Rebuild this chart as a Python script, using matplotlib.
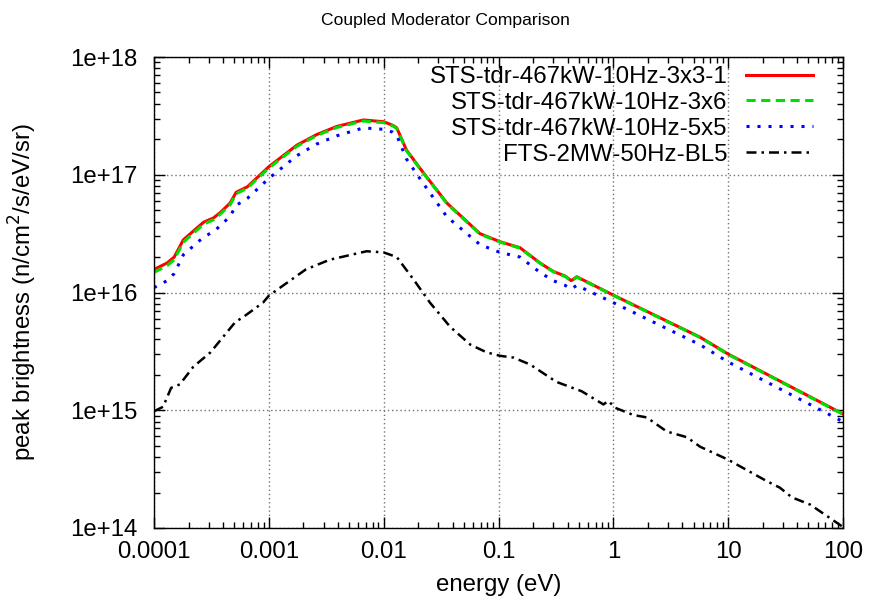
import matplotlib
matplotlib.use("Agg")
import matplotlib.pyplot as plt
from matplotlib.ticker import LogLocator, NullFormatter, FixedLocator, FixedFormatter

plt.rcParams['font.family'] = ['Liberation Sans', 'DejaVu Sans']

# STS 3x3-1 (red) and 3x6 (green)
e_sts = [1e-4, 1.3e-4, 1.5e-4, 1.8e-4, 2.7e-4, 3.3e-4, 3.8e-4, 4.6e-4, 5.2e-4, 6.5e-4,
         1e-3, 1.75e-3, 2.6e-3, 3.9e-3, 6.65e-3, 1e-2, 1.2e-2, 1.3e-2, 1.58e-2, 2.2e-2,
         3.55e-2, 6.9e-2, 0.103, 0.154, 0.23, 0.30, 0.38, 0.43, 0.48, 1.0, 5.7, 10, 100]
b_3x3 = [1.57e16, 1.78e16, 2.0e16, 2.8e16, 3.95e16, 4.3e16, 4.8e16, 5.75e16, 7.1e16, 7.9e16,
         1.17e17, 1.78e17, 2.19e17, 2.57e17, 2.92e17, 2.82e17, 2.63e17, 2.5e17, 1.62e17, 1.05e17,
         5.75e16, 3.16e16, 2.7e16, 2.4e16, 1.78e16, 1.51e16, 1.38e16, 1.26e16, 1.36e16, 9.5e15,
         4.17e15, 3.0e15, 9.3e14]
b_3x6 = [1.48e16, 1.69e16, 1.9e16, 2.68e16, 3.8e16, 4.15e16, 4.65e16, 5.55e16, 6.9e16, 7.7e16,
         1.14e17, 1.74e17, 2.15e17, 2.52e17, 2.86e17, 2.77e17, 2.6e17, 2.47e17, 1.6e17, 1.04e17,
         5.7e16, 3.13e16, 2.68e16, 2.38e16, 1.77e16, 1.5e16, 1.37e16, 1.25e16, 1.35e16, 9.45e15,
         4.15e15, 2.98e15, 9.25e14]
b_5x5 = [1.10e16, 1.26e16, 1.45e16, 2.09e16, 2.95e16, 3.3e16, 3.7e16, 4.45e16, 5.5e16, 6.3e16,
         9.3e16, 1.45e17, 1.82e17, 2.14e17, 2.5e17, 2.43e17, 2.3e17, 2.16e17, 1.36e17, 8.5e16,
         4.4e16, 2.55e16, 2.19e16, 2.0e16, 1.48e16, 1.26e16, 1.15e16, 1.07e16, 1.15e16, 8.2e15,
         3.6e15, 2.57e15, 8.0e14]

# FTS BL5 (black)
e_fts = [1e-4, 1.2e-4, 1.41e-4, 1.68e-4, 2.2e-4, 3.1e-4, 4.0e-4, 5.1e-4, 6.0e-4, 8.9e-4,
         1e-3, 2.1e-3, 3.4e-3, 7.1e-3, 1e-2, 1.3e-2, 1.82e-2, 2.53e-2, 3.8e-2, 5.7e-2,
         7.9e-2, 0.103, 0.135, 0.188, 0.32, 0.53, 0.82, 0.905, 1.035, 1.5,
         1.95, 2.92, 4.37, 5.7, 10, 21.7, 28.2, 35.9, 51.8, 100]
b_fts = [9.8e14, 1.07e15, 1.55e15, 1.66e15, 2.34e15, 3.1e15, 4.2e15, 5.6e15, 6.2e15, 8.2e15,
         9.4e15, 1.57e16, 1.9e16, 2.24e16, 2.19e16, 2.0e16, 1.29e16, 8.2e15, 5.1e15, 3.6e15,
         3.1e15, 2.9e15, 2.8e15, 2.45e15, 1.74e15, 1.45e15, 1.12e15, 1.2e15, 1.05e15, 9.1e14,
         8.7e14, 6.6e14, 5.9e14, 4.9e14, 3.8e14, 2.5e14, 2.2e14, 1.82e14, 1.58e14, 1.02e14]

labels = ["STS-tdr-467kW-10Hz-3x3-1", "STS-tdr-467kW-10Hz-3x6",
          "STS-tdr-467kW-10Hz-5x5", "FTS-2MW-50Hz-BL5"]

xticks = [1e-4, 1e-3, 1e-2, 1e-1, 1, 10, 100]
xticklabels = ["0.0001", "0.001", "0.01", "0.1", "1", "10", "100"]
yticks = [1e14, 1e15, 1e16, 1e17, 1e18]
yticklabels = ["1e+14", "1e+15", "1e+16", "1e+17", "1e+18"]

fs = 17.3

fig = plt.figure(figsize=(8.69, 6.08), dpi=100)
ax = fig.add_axes([154/869, 1-528/608, 689/869, 471/608])

ax.plot(e_sts, b_3x3, color='#ff0000', lw=2.2, label=labels[0])
ax.plot(e_sts, b_3x6, color='#00e000', lw=2.2, ls=(0, (3, 1.8)), label=labels[1])
ax.plot(e_sts, b_5x5, color='#0000ff', lw=2.2, ls=(0, (1, 2.6)), label=labels[2])
ax.plot(e_fts, b_fts, color='black', lw=1.8, ls=(0, (4, 2, 1, 2)), label=labels[3])

ax.set_xscale('log')
ax.set_yscale('log')
ax.set_xlim(1e-4, 100)
ax.set_ylim(1e14, 1e18)

ax.xaxis.set_major_locator(FixedLocator(xticks))
ax.xaxis.set_major_formatter(FixedFormatter(xticklabels))
ax.yaxis.set_major_locator(FixedLocator(yticks))
ax.yaxis.set_major_formatter(FixedFormatter(yticklabels))
ax.xaxis.set_minor_locator(LogLocator(base=10, subs=range(2, 10), numticks=20))
ax.yaxis.set_minor_locator(LogLocator(base=10, subs=range(2, 10), numticks=20))
ax.xaxis.set_minor_formatter(NullFormatter())
ax.yaxis.set_minor_formatter(NullFormatter())

ax.tick_params(which='both', direction='in', top=True, right=True, width=1, labelsize=fs)
ax.tick_params(which='major', length=8)
ax.tick_params(which='minor', length=4)
ax.tick_params(axis='x', pad=9)
ax.tick_params(axis='y', pad=12)
for s in ax.spines.values():
    s.set_linewidth(1)

ax.grid(True, which='major', color='0.45', ls=(0, (1, 2)), lw=1)

ax.set_xlabel("energy (eV)", fontsize=fs)
ax.xaxis.set_label_coords(0.5, -0.097)
ax.set_ylabel("peak brightness (n/cm$^2$/s/eV/sr)", fontsize=fs)
ax.yaxis.set_label_coords(-0.167, 0.5)

fig.text(445/869, 1-25/608, "Coupled Moderator Comparison", fontsize=12.6,
         ha='center', va='baseline')

ax.legend(loc='upper right', bbox_to_anchor=((813-154)/689, (528-66)/471),
          frameon=False, markerfirst=False, fontsize=fs, borderpad=0,
          borderaxespad=0, labelspacing=0.16, handlelength=2.8, handletextpad=0.75)

fig.savefig("out.png", dpi=100)
